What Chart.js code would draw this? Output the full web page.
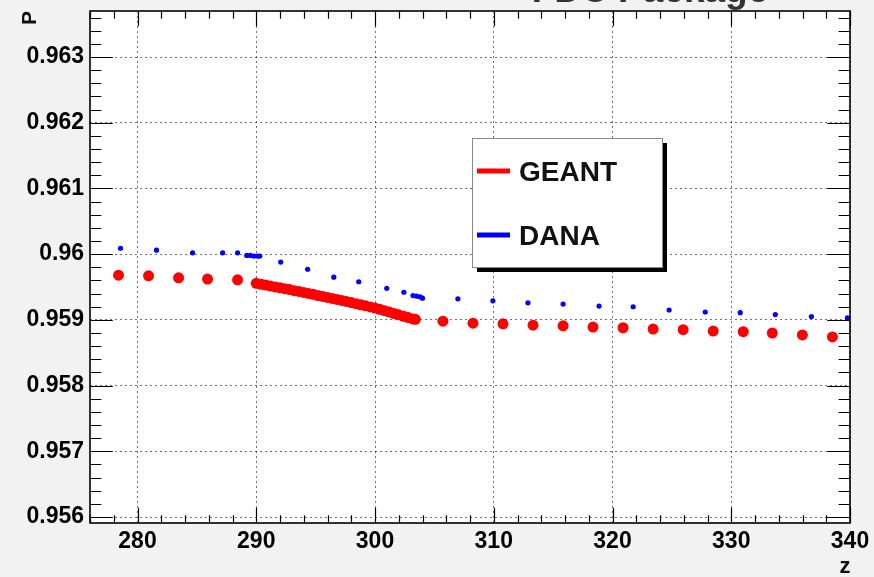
<!DOCTYPE html>
<html><head><meta charset="utf-8">
<script src="https://cdn.jsdelivr.net/npm/chart.js@4.4.0/dist/chart.umd.min.js"></script>
<style>html,body{margin:0;padding:0;background:#f2f2f2;}canvas{display:block;}</style>
</head><body>
<canvas id="c" width="874" height="577"></canvas>
<script>
const chartTitle = 'FDC Package';
const xAxisTitle = 'z';
const yAxisTitle = 'P';
const xTicks = [280, 290, 300, 310, 320, 330, 340];
const yTicks = [0.956, 0.957, 0.958, 0.959, 0.960, 0.961, 0.962, 0.963];
const yTickLabels = ['0.956', '0.957', '0.958', '0.959', '0.96', '0.961', '0.962', '0.963'];

const geantZ = [278.40, 280.93, 283.46, 285.90, 288.43,
  290.0, 290.4, 290.8, 291.2, 291.6, 292.0, 292.4, 292.8, 293.2, 293.6, 294.0, 294.4, 294.8, 295.2, 295.6,
  296.0, 296.4, 296.8, 297.2, 297.6, 298.0, 298.4, 298.8, 299.2, 299.6, 300.0, 300.4, 300.8, 301.2, 301.6,
  302.0, 302.4, 302.8, 303.2, 303.4,
  305.72, 308.25, 310.78, 313.31, 315.84, 318.36, 320.89, 323.42, 325.95, 328.48, 331.01, 333.46, 335.99, 338.52];
const geantP = [0.95968, 0.95967, 0.95964, 0.95962, 0.95961,
  0.959556, 0.959542, 0.959529, 0.959515, 0.959502, 0.959488, 0.959474, 0.959461, 0.959445, 0.959432, 0.959418,
  0.959403, 0.959388, 0.959371, 0.959356, 0.959341, 0.959326, 0.959311, 0.959295, 0.959280, 0.959264, 0.959247,
  0.959230, 0.959214, 0.959197, 0.959180, 0.959161, 0.959139, 0.959118, 0.959097, 0.959076, 0.959055, 0.959035,
  0.959015, 0.959008,
  0.95898, 0.95895, 0.95894, 0.95892, 0.95891, 0.95889, 0.95888, 0.95886, 0.95885, 0.95883, 0.95882, 0.95880, 0.95877, 0.95874];

const danaZ = [278.57, 281.60, 284.64, 287.17, 288.43, 289.2, 289.5, 289.8, 290.1, 290.3,
  292.06, 294.33, 296.53, 298.63, 300.99, 302.43, 303.2, 303.5, 303.8, 304.0,
  306.98, 309.93, 312.88, 315.84, 318.87, 321.74, 324.77, 327.81, 330.76, 333.71, 336.75, 339.78];
const danaP = [0.96009, 0.96006, 0.96002, 0.96002, 0.96002, 0.95998, 0.95998, 0.95997, 0.95997, 0.95997,
  0.95988, 0.95977, 0.95965, 0.95958, 0.95948, 0.95942, 0.95937, 0.95936, 0.95935, 0.95933,
  0.95932, 0.95929, 0.95926, 0.95924, 0.95921, 0.95920, 0.95915, 0.95912, 0.95911, 0.95908, 0.95905, 0.95903];

const toPts = (xs, ys) => xs.map((v, i) => ({x: v, y: ys[i]}));
const FONT = '"Liberation Sans", Arial, Helvetica, sans-serif';
Chart.defaults.font.family = FONT;

const rootStyle = {
  id: 'rootStyle',
  beforeDraw(chart) {
    const {ctx, chartArea: a} = chart;
    ctx.save();
    ctx.fillStyle = '#ffffff';
    ctx.fillRect(a.left, a.top, a.right - a.left, a.bottom - a.top);
    ctx.restore();
  },
  afterDatasetsDraw(chart) {
    const {ctx, chartArea: a, scales: {x, y}} = chart;
    const W = a.right - a.left, H = a.bottom - a.top;
    const xMaj = 0.03 * H, xMin = xMaj / 2, yMaj = 0.03 * W, yMin = yMaj / 2;
    ctx.save();
    ctx.strokeStyle = '#000';
    ctx.lineWidth = 1.2;
    ctx.beginPath();
    for (let k = Math.ceil(x.min / 2); k * 2 <= x.max + 1e-9; k++) {
      const v = k * 2;
      const px = Math.round(x.getPixelForValue(v)) + 0.5;
      const len = (v % 10 === 0) ? xMaj : xMin;
      ctx.moveTo(px, a.bottom); ctx.lineTo(px, a.bottom - len);
      ctx.moveTo(px, a.top); ctx.lineTo(px, a.top + len);
    }
    const st = 0.0002;
    for (let k = Math.ceil(y.min / st - 1e-6); k * st <= y.max + 1e-12; k++) {
      const v = k * st;
      const py = Math.round(y.getPixelForValue(v)) + 0.5;
      const len = (k % 5 === 0) ? yMaj : yMin;
      ctx.moveTo(a.left, py); ctx.lineTo(a.left + len, py);
      ctx.moveTo(a.right, py); ctx.lineTo(a.right - len, py);
    }
    ctx.stroke();
    ctx.lineWidth = 1.6;
    ctx.strokeRect(a.left, a.top, W, H);
    ctx.restore();
  },
  afterDraw(chart) {
    const {ctx} = chart;
    ctx.save();
    // title (partly cut off at the top, as in the reference)
    ctx.fillStyle = '#333';
    ctx.font = 'bold 37px ' + FONT;
    ctx.textAlign = 'center';
    ctx.textBaseline = 'alphabetic';
    ctx.fillText(chartTitle, 650, 2);
    // axis titles
    ctx.fillStyle = '#111';
    ctx.font = 'bold 21px ' + FONT;
    ctx.save();
    ctx.translate(30, 18);
    ctx.rotate(-Math.PI / 2);
    ctx.textAlign = 'center';
    ctx.textBaseline = 'middle';
    ctx.fillText(yAxisTitle, 0, 0);
    ctx.restore();
    ctx.font = 'bold 22px ' + FONT;
    ctx.textAlign = 'center';
    ctx.textBaseline = 'alphabetic';
    ctx.fillText(xAxisTitle, 845, 573);
    // legend box with shadow
    const lx = 472, ly = 138, lw = 190, lh = 129;
    ctx.fillStyle = '#000';
    ctx.fillRect(lx + 5, ly + 5, lw, lh);
    ctx.fillStyle = '#fff';
    ctx.fillRect(lx, ly, lw, lh);
    ctx.strokeStyle = '#888';
    ctx.lineWidth = 1;
    ctx.strokeRect(lx + 0.5, ly + 0.5, lw, lh);
    const rows = [171, 235];
    chart.data.datasets.forEach((ds, i) => {
      const ry = rows[i];
      ctx.strokeStyle = ds.backgroundColor;
      ctx.lineWidth = 5;
      ctx.beginPath();
      ctx.moveTo(477, ry); ctx.lineTo(510, ry);
      ctx.stroke();
      ctx.fillStyle = '#111';
      ctx.font = 'bold 28px ' + FONT;
      ctx.textAlign = 'left';
      ctx.textBaseline = 'alphabetic';
      ctx.fillText(ds.label, 519, ry + 10);
    });
    ctx.restore();
  }
};

new Chart(document.getElementById('c'), {
  type: 'scatter',
  data: {
    datasets: [
      {label: 'GEANT', data: toPts(geantZ, geantP), backgroundColor: '#ff0000', borderColor: '#ff0000',
       pointRadius: 5.5, pointBorderWidth: 0, pointHoverRadius: 5.5, showLine: false},
      {label: 'DANA', data: toPts(danaZ, danaP), backgroundColor: '#0000ff', borderColor: '#0000ff',
       pointRadius: 2.6, pointBorderWidth: 0, pointHoverRadius: 2.6, showLine: false}
    ]
  },
  options: {
    responsive: false,
    animation: false,
    devicePixelRatio: 1,
    events: [],
    layout: {padding: {top: 11, right: 24, left: 0, bottom: 0}},
    plugins: {legend: {display: false}, tooltip: {enabled: false}, title: {display: false}},
    scales: {
      x: {
        type: 'linear', min: 276, max: 340,
        afterBuildTicks: s => { s.ticks = xTicks.map(v => ({value: v})); },
        afterFit: s => { s.height = 54; s.paddingLeft = 0; s.paddingRight = 0; },
        grid: {color: 'rgba(0,0,0,0.55)', lineWidth: 1, drawTicks: false},
        border: {display: false, dash: [2, 3]},
        ticks: {color: '#000', font: {size: 23, weight: 'bold'}, padding: 5, maxRotation: 0,
                callback: v => String(v)}
      },
      y: {
        type: 'linear', min: 0.955909, max: 0.9637,
        afterBuildTicks: s => { s.ticks = yTicks.map(v => ({value: v})); },
        afterFit: s => { s.width = 90; s.paddingTop = 0; s.paddingBottom = 0; },
        grid: {color: 'rgba(0,0,0,0.55)', lineWidth: 1, drawTicks: false},
        border: {display: false, dash: [2, 3]},
        ticks: {color: '#000', font: {size: 23, weight: 'bold'}, padding: 6,
                callback: (v) => { const i = yTicks.findIndex(t => Math.abs(t - v) < 1e-9); return i >= 0 ? yTickLabels[i] : ''; }}
      }
    }
  },
  plugins: [rootStyle]
});
</script>
</body></html>
